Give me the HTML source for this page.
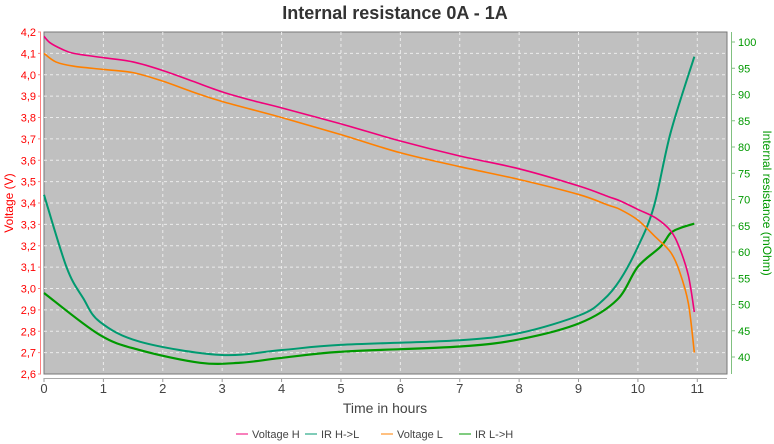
<!DOCTYPE html>
<html><head><meta charset="utf-8">
<style>
html,body{margin:0;padding:0;background:#fff;}
svg{display:block;font-family:"Liberation Sans",sans-serif;}
</style></head>
<body>
<svg id="chart" width="774" height="444" viewBox="0 0 774 444">
  <text x="395" y="19" text-anchor="middle" font-size="18" font-weight="bold" fill="#333">Internal resistance  0A - 1A</text>
  <rect x="44" y="32" width="683" height="342" fill="#c0c0c0" stroke="#777" stroke-width="1"/>
  <g id="grid"></g>
  <g id="axes"></g>
  <g id="series"></g>
  <text x="385" y="413" text-anchor="middle" font-size="14" fill="#444">Time in hours</text>
  <text transform="translate(13,203) rotate(-90)" text-anchor="middle" font-size="12" fill="#ff0000">Voltage (V)</text>
  <text transform="translate(763,203) rotate(90)" text-anchor="middle" font-size="12" fill="#009900">Internal resistance (mOhm)</text>
  <g id="legend"></g>
</svg>
<script>
const xTicks=[0,1,2,3,4,5,6,7,8,9,10,11];
const vTicks=[2.6,2.7,2.8,2.9,3.0,3.1,3.2,3.3,3.4,3.5,3.6,3.7,3.8,3.9,4.0,4.1,4.2];
const rTicks=[40,45,50,55,60,65,70,75,80,85,90,95,100];
const vhT=[0,0.1,0.3,0.5,1,1.5,2,2.5,3,3.5,4,5,6,7,8,9,9.5,9.7,10,10.3,10.55,10.7,10.85,10.95];
const vhV=[4.18,4.15,4.12,4.10,4.08,4.06,4.02,3.97,3.92,3.88,3.845,3.77,3.69,3.62,3.56,3.48,3.43,3.41,3.37,3.33,3.27,3.19,3.06,2.89];
const vlT=[0,0.2,0.5,1,1.5,2,2.5,3,4,5,6,7,8,9,9.5,9.7,10,10.3,10.55,10.7,10.85,10.95];
const vlV=[4.10,4.06,4.04,4.025,4.01,3.97,3.92,3.875,3.80,3.72,3.635,3.57,3.51,3.44,3.39,3.37,3.32,3.24,3.17,3.08,2.93,2.70];
const hlT=[0,0.38,0.66,0.94,1.62,2.96,3.98,4.99,7.0,8.02,9.03,9.42,9.7,10,10.27,10.55,10.95];
const hlR=[70.9,57.1,51.2,46.7,42.9,40.4,41.3,42.3,43.2,44.6,48.0,50.9,54.7,61.0,68.7,82.7,97.2];
const lhT=[0,0.94,1.62,2.63,3.3,3.98,5,7.0,8.02,9.03,9.65,10,10.38,10.55,10.72,10.95];
const lhR=[52.2,44.2,41.3,38.9,38.9,39.8,41.0,42.0,43.4,46.5,50.9,57.2,61.0,63.6,64.6,65.4];

const X0=44,X1=727,Y0=32,Y1=374;
const xs=h=>X0+(h-0)/(11.5-0)*(X1-X0);
const yv=v=>Y1-(v-2.6)/(4.2-2.6)*(Y1-Y0);
const R40=357,R100=42;
const yr=r=>R40-(r-40)/60*(R40-R100);
const NS="http://www.w3.org/2000/svg";
function mk(tag,attrs,parent,txt){const e=document.createElementNS(NS,tag);for(const k in attrs)e.setAttribute(k,attrs[k]);if(txt!==undefined)e.textContent=txt;parent.appendChild(e);return e;}
const grid=document.getElementById('grid'),axes=document.getElementById('axes'),ser=document.getElementById('series'),leg=document.getElementById('legend');

xTicks.forEach(t=>{const x=xs(t);
  if(t>0){const l=mk('line',{x1:x,y1:Y0,x2:x,y2:Y1,stroke:'#ececec','stroke-dasharray':'3,3','stroke-width':1},grid);
  
  }
  const tk=mk('line',{x1:x,y1:Y1+4,x2:x,y2:Y1+8,stroke:'#999'},axes);
  
  
  const lb=mk('text',{x:x,y:393,'text-anchor':'middle','font-size':13,fill:'#444'},axes,String(t));
  
  
});
vTicks.forEach(v=>{const y=yv(v);
  if(v>2.65&&v<4.15){const l=mk('line',{x1:X0,y1:y,x2:X1,y2:y,stroke:'#ececec','stroke-dasharray':'3,3','stroke-width':1},grid);
  
  }
  const tk=mk('line',{x1:38,y1:y,x2:41,y2:y,stroke:'#ff8080'},axes);
  
  
  const lb=mk('text',{x:36,y:y+4,'text-anchor':'end','font-size':11,fill:'#ff0000'},axes,v.toFixed(1).replace('.',','));
  
  
});
rTicks.forEach(r=>{const y=yr(r);
  const tk=mk('line',{x1:731,y1:y,x2:735,y2:y,stroke:'#80c080'},axes);
  
  
  const lb=mk('text',{x:738,y:y+4,'font-size':11,fill:'#009900'},axes,String(r));
  
  
});
let a=mk('line',{x1:40.5,y1:Y0,x2:40.5,y2:Y1,stroke:'#ff8080'},axes);


a=mk('line',{x1:731.5,y1:Y0,x2:731.5,y2:Y1,stroke:'#80c080'},axes);


a=mk('line',{x1:X0,y1:378.5,x2:X1,y2:378.5,stroke:'#aaa'},axes);



function pathD(ts,vs,fy){const p=ts.map((t,i)=>[xs(t),fy(vs[i])]);let d='M'+p[0][0]+','+p[0][1];
  for(let i=0;i<p.length-1;i++){const p0=p[Math.max(0,i-1)],p1=p[i],p2=p[i+1],p3=p[Math.min(p.length-1,i+2)];
    const c1=[p1[0]+(p2[0]-p0[0])/6,p1[1]+(p2[1]-p0[1])/6],c2=[p2[0]-(p3[0]-p1[0])/6,p2[1]-(p3[1]-p1[1])/6];
    d+=' C'+c1[0].toFixed(2)+','+c1[1].toFixed(2)+' '+c2[0].toFixed(2)+','+c2[1].toFixed(2)+' '+p2[0].toFixed(2)+','+p2[1].toFixed(2);}
  return d;}
let s=mk('path',{d:pathD(hlT,hlR,yr),fill:'none',stroke:'#009a70','stroke-width':2},ser);


s=mk('path',{d:pathD(lhT,lhR,yr),fill:'none',stroke:'#009900','stroke-width':2.2},ser);


s=mk('path',{d:pathD(vlT,vlV,yv),fill:'none',stroke:'#ff8000','stroke-width':1.6},ser);


s=mk('path',{d:pathD(vhT,vhV,yv),fill:'none',stroke:'#f0007a','stroke-width':1.6},ser);



const legNames=['Voltage H','IR H->L','Voltage L','IR L->H'];
const legColors=['#f0007a','#009a70','#ff8000','#009900'];
const legX=[236,305,381,459];
legNames.forEach((n,i)=>{const g=mk('g',{},leg);
  
  
  mk('line',{x1:legX[i],y1:434,x2:legX[i]+12,y2:434,stroke:legColors[i],'stroke-width':1},g);
  mk('text',{x:legX[i]+16,y:438,'font-size':11,fill:'#444'},g,n);
});
</script>
</body></html>
